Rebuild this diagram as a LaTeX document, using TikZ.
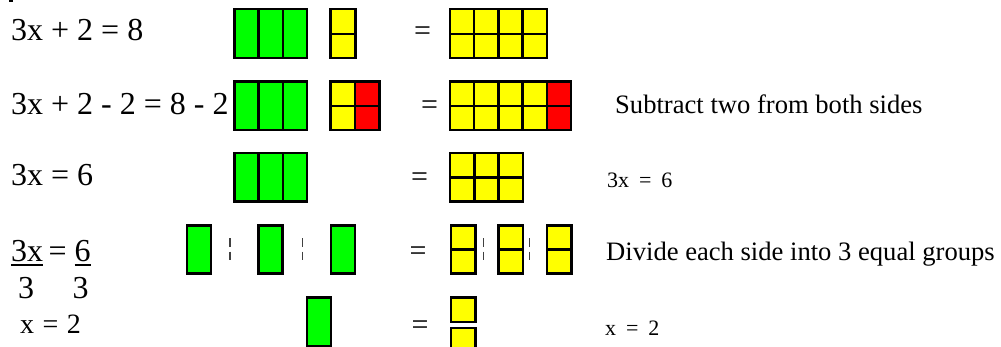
\documentclass[tikz,border=0pt]{standalone}
\usepackage{fontspec}
\setmainfont{Liberation Serif}
\usetikzlibrary{positioning}

\definecolor{tilegreen}{RGB}{0,255,0}
\definecolor{tileyellow}{RGB}{255,255,0}
\definecolor{tilered}{RGB}{255,0,0}

\begin{document}
\begin{tikzpicture}[x=1pt,y=-1pt,
    greentile/.style={draw=black,line width=2.4pt,fill=tilegreen},
    yellowtile/.style={draw=black,line width=2.4pt,fill=tileyellow},
    redtile/.style={draw=black,line width=2.4pt,fill=tilered},
    groupsep/.style={draw=black!75,line width=1.6pt,dash pattern=on 8.4pt off 5pt},
    lefteq/.style={anchor=base west,inner sep=0pt,font=\fontsize{32}{36}\selectfont},
    eqsign/.style={anchor=base,inner sep=0pt,font=\fontsize{30}{34}\selectfont},
    note/.style={anchor=base west,inner sep=0pt,font=\fontsize{26.6}{30}\selectfont},
    smallnote/.style={anchor=base west,inner sep=0pt,font=\fontsize{22}{26}\selectfont}]
    \useasboundingbox (0,0) rectangle (1001,347);
    \fill (9.3,0) rectangle (12.7,1.7);
    % row 1
    \node[lefteq] (eqA) at (11,40.7) {3x + 2 = 8};
    \foreach \i in {0,1,2}
        \draw[greentile] ({234.3+24.3*\i},9.3) rectangle +(24.3,49);
    \foreach \j in {0,1}
        \draw[yellowtile] (330.3,{9.3+24.5*\j}) rectangle +(25,24.5);
    \node[eqsign] (eqsA) at (422.5,40.5) {=};
    \foreach \i in {0,...,3}
        \foreach \j in {0,1}
            \draw[yellowtile] ({450+24.2*\i},{9.3+24.5*\j}) rectangle +(24.2,24.5);
    % row 2
    \node[lefteq] (eqB) at (11,114.3) {3x + 2 - 2 = 8 - 2};
    \foreach \i in {0,1,2}
        \draw[greentile] ({234.3+24.3*\i},81.7) rectangle +(24.3,48.3);
    \foreach \j in {0,1}{
        \draw[yellowtile] (330.3,{81.7+24.15*\j}) rectangle +(24.7,24.15);
        \draw[redtile] (355,{81.7+24.15*\j}) rectangle +(24.3,24.15);
    }
    \node[eqsign] (eqsB) at (429.7,114.5) {=};
    \foreach \i in {0,...,3}
        \foreach \j in {0,1}
            \draw[yellowtile] ({450+24.2*\i},{81.7+24.15*\j}) rectangle +(24.2,24.15);
    \foreach \j in {0,1}
        \draw[redtile] (546.8,{81.7+24.15*\j}) rectangle +(24.2,24.15);
    \node[note] (subnote) at (615,114) {Subtract two from both sides};
    % row 3
    \node[lefteq] (eqC) at (11,186) {3x = 6};
    \foreach \i in {0,1,2}
        \draw[greentile] ({234.3+24.3*\i},153.3) rectangle +(24.3,48.4);
    \node[eqsign] (eqsC) at (419.7,186.8) {=};
    \foreach \i in {0,1,2}
        \foreach \j in {0,1}
            \draw[yellowtile] ({450+24.3*\i},{153.3+24.2*\j}) rectangle +(24.3,24.2);
    \node[smallnote] (restnote) at (607,187.3) {3x\hspace{0.45em}=\hspace{0.45em}6};
    % row 4
    \node[lefteq] (numA) at (11,261.7) {3x};
    \node[lefteq] (eqD) at (48.5,261.7) {=};
    \node[lefteq] (numB) at (74.5,261.7) {6};
    \draw[line width=2pt] ([yshift=-3.6pt]numA.base west) -- ([yshift=-3.6pt]numA.base east);
    \draw[line width=2pt] ([yshift=-3.6pt]numB.base west) -- ([yshift=-3.6pt]numB.base east);
    \node[lefteq,anchor=base] (denA) at (26.2,298.3) {3};
    \node[lefteq,anchor=base] (denB) at (80.7,298.3) {3};
    \foreach \x in {186.7,258.3,330.7}
        \draw[greentile] (\x,225.7) rectangle +(24.3,48);
    \foreach \x in {230,302.3,483.3,529.3}
        \draw[groupsep] (\x,238.3) -- (\x,260);
    \node[eqsign] (eqsD) at (418,260.2) {=};
    \foreach \x in {450.7,498.3,546.7}
        \foreach \j in {0,1}
            \draw[yellowtile] (\x,{225.7+24*\j}) rectangle +(24.6,24);
    \node[note] (divnote) at (606,260.7) {Divide each side into 3 equal groups};
    % row 5
    \node[lefteq,font=\fontsize{28}{32}\selectfont] (eqE) at (20,333.3) {x\hspace{0.3em}=\hspace{0.3em}2};
    \draw[greentile] (306.7,297.7) rectangle +(24.3,48.3);
    \node[eqsign] (eqsE) at (420,334.5) {=};
    \draw[yellowtile] (450.7,297.7) rectangle +(24.6,24);
    \draw[yellowtile] (450.7,327.7) rectangle +(24.6,24);
    \node[smallnote] (endnote) at (605,335) {x\hspace{0.45em}=\hspace{0.45em}2};
\end{tikzpicture}
\end{document}
